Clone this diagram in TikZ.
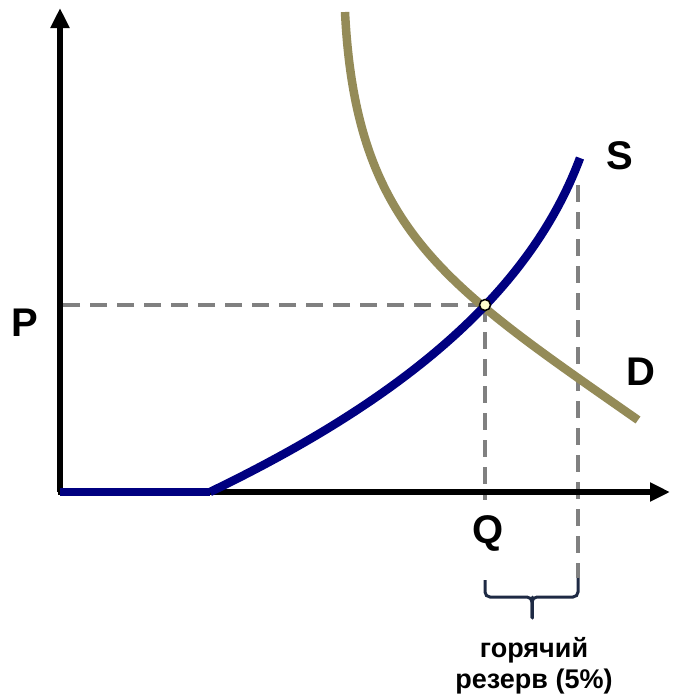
\documentclass[tikz,border=0pt]{standalone}
\usepackage{fontspec}
\setmainfont{Liberation Sans}
\usetikzlibrary{arrows.meta}
\definecolor{sup}{HTML}{000080}
\definecolor{dem}{HTML}{948B58}
\definecolor{dash}{HTML}{808080}
\definecolor{brc}{HTML}{1E2A44}
\definecolor{pt}{HTML}{FFFFCC}
\begin{document}
\begin{tikzpicture}[x=1pt,y=-1pt,
  axis/.style={line width=5.5pt,-{Triangle[length=20pt,width=18pt]}},
  supc/.style={line width=8.5pt,draw=sup},
  demc/.style={line width=8.5pt,draw=dem},
  guide/.style={line width=4pt,draw=dash,dash pattern=on 17pt off 10pt},
  lbl/.style={font=\bfseries\fontsize{40}{44}\selectfont,inner sep=0pt},
  note/.style={font=\bfseries\fontsize{27}{31}\selectfont,align=center,inner sep=0pt}]
\useasboundingbox (0,0) rectangle (681,697);
\coordinate (O) at (60,492);
\coordinate (yTop) at (60,8);
\coordinate (xEnd) at (670,492);
\coordinate (E) at (485,305);
\coordinate (Pax) at (60,305);
\coordinate (Qax) at (485,500);
\coordinate (Stop) at (578,185);
\coordinate (Sbot) at (578,578);
\coordinate (kink) at (210,492);
\coordinate (Stip) at (580,158);
\coordinate (Dtop) at (345,12);
\coordinate (Dend) at (638,420);
% guides
\draw[guide] (E) -- (Pax);
\draw[guide] (E) -- (Qax);
\draw[guide] (Stop) -- (Sbot);
% axes
\draw[axis] (O) -- (yTop);
\draw[axis] (58,492) -- (xEnd);
% demand
\draw[demc] (Dtop) .. controls (356,230) and (445,285) .. (Dend);
% supply
\draw[supc] (O) -- (kink);
\draw[supc] (kink) .. controls (405,398) and (530,292) .. (Stip);
% equilibrium point
\node[circle,draw=black,fill=pt,line width=1.5pt,minimum size=11pt,inner sep=0pt] (Ept) at (E) {};
% labels
\node[lbl] (P) at (25,323) {P};
\node[lbl] (S) at (620,156) {S};
\node[lbl] (D) at (641,372) {D};
\node[lbl] (Q) at (488,533) {Q};
% brace
\coordinate (bL) at (485,580);
\coordinate (bR) at (578,578);
\coordinate (bM) at (532,618);
\coordinate (bC) at (532,597);
\draw[brc,line width=3pt,rounded corners=5pt] (bL) -- (485,597) -- (bC) -- (bM);
\draw[brc,line width=3pt,rounded corners=5pt] (bR) -- (578,597) -- (bC) -- (bM);
\draw[brc,line width=3pt,line cap=round] (bC) -- (bM);
\node[note] (txt) at (534,666) {горячий\\резерв (5\%)};
\end{tikzpicture}
\end{document}
